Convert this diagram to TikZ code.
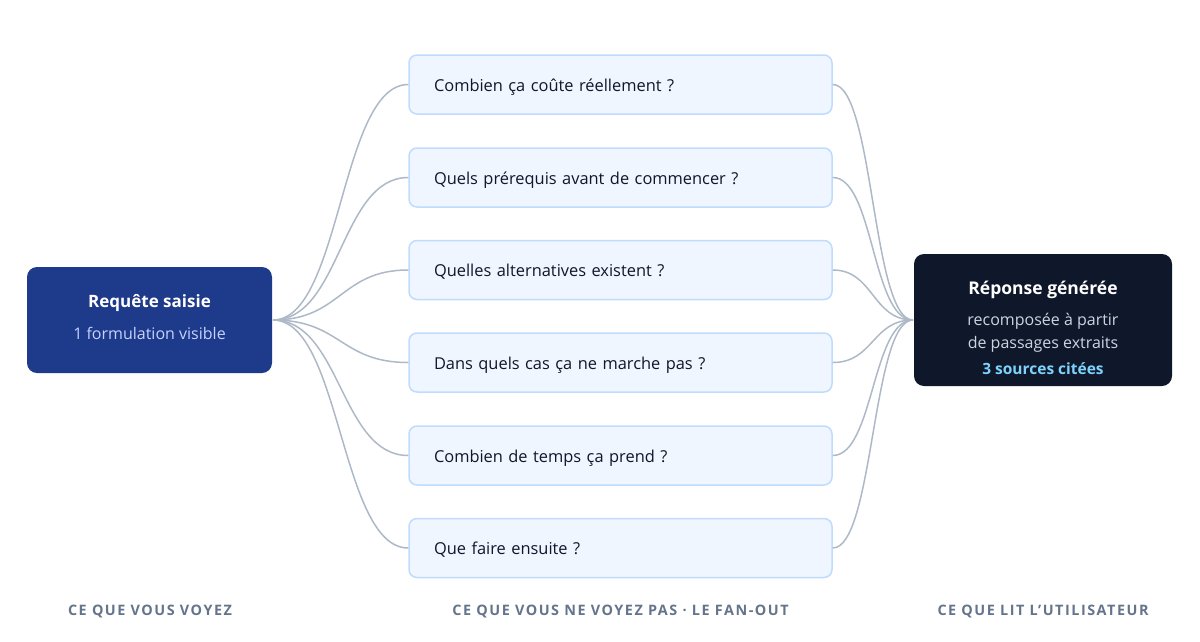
\documentclass[tikz,border=0pt]{standalone}
\usepackage{fontspec}
\setmainfont{Open Sans}
\newfontfamily\capsfont[LetterSpace=10.5]{Open Sans}
\usetikzlibrary{positioning,calc}
\definecolor{leftfill}{HTML}{1E3A8A}
\definecolor{rightfill}{HTML}{0F172A}
\definecolor{midfill}{HTML}{EFF6FF}
\definecolor{midborder}{HTML}{BFDBFE}
\definecolor{linkcol}{HTML}{AEB9C8}
\definecolor{subleft}{HTML}{C7D2FE}
\definecolor{subright}{HTML}{CBD5E1}
\definecolor{citecol}{HTML}{7DD3FC}
\definecolor{capcol}{HTML}{64748B}
\definecolor{midtext}{HTML}{0F172A}
\tikzset{
  midbox/.style={draw=midborder, line width=1.5pt, fill=midfill, rounded corners=8pt,
    minimum width=423pt, minimum height=59pt, text width=373pt, align=left,
    text height=13pt, text depth=0pt,
    inner sep=0pt, font=\fontsize{16.4}{19}\selectfont, text=midtext},
  leftbox/.style={fill=leftfill, rounded corners=10pt, minimum width=245pt, minimum height=106pt,
    align=center, inner sep=0pt, text=white},
  rightbox/.style={fill=rightfill, rounded corners=10pt, minimum width=258pt, minimum height=132pt,
    align=center, inner sep=0pt, text=white},
  link/.style={draw=linkcol, line width=1.5pt},
  caption/.style={font=\capsfont\bfseries\fontsize{14.4}{16}\selectfont, text=capcol, inner sep=0pt}
}
\begin{document}
\begin{tikzpicture}[x=1pt,y=-1pt]
\useasboundingbox (0,0) rectangle (1200,641);
\node[leftbox] (req) at (149.5,320) {};
\node[text=white, font=\bfseries\fontsize{17}{20}\selectfont] (reqt) at (149.5,303) {Requête saisie};
\node[text=subleft, font=\fontsize{16}{19}\selectfont] (reqs) at (149.5,333) {1 formulation visible};
\node[rightbox] (rep) at (1043,320) {};
\node[text=white, font=\bfseries\fontsize{17.5}{20}\selectfont] (rept) at (1043,290) {Réponse générée};
\node[text=subright, font=\fontsize{16}{19}\selectfont] (rep1) at (1043,321) {recomposée à partir};
\node[text=subright, font=\fontsize{16}{19}\selectfont] (rep2) at (1043,344) {de passages extraits};
\node[text=citecol, font=\bfseries\fontsize{15.5}{18}\selectfont] (rep3) at (1043,369) {3 sources citées};
\node[midbox] (q1) at (620.5,84.5) {Combien ça coûte réellement ?};
\node[midbox] (q2) at (620.5,177.5) {Quels prérequis avant de commencer ?};
\node[midbox] (q3) at (620.5,270) {Quelles alternatives existent ?};
\node[midbox] (q4) at (620.5,362.5) {Dans quels cas ça ne marche pas ?};
\node[midbox] (q5) at (620.5,455.5) {Combien de temps ça prend ?};
\node[midbox] (q6) at (620.5,548) {Que faire ensuite ?};
\coordinate (lp) at (273,320);
\coordinate (rp) at (913,320);
\foreach \q in {q1,q2,q3,q4,q5,q6}{
  \draw[link] (lp) .. controls ($(lp)+(68,0)$) and ($(\q.west)+(-68,0)$) .. (\q.west);
  \draw[link] (\q.east) .. controls ($(\q.east)+(41,0)$) and ($(rp)+(-41,0)$) .. (rp);
}
\node[caption] (c1) at (150,611) {CE QUE VOUS VOYEZ};
\node[caption] (c2) at (620.5,611) {CE QUE VOUS NE VOYEZ PAS · LE FAN-OUT};
\node[caption] (c3) at (1043,611) {CE QUE LIT L’UTILISATEUR};
\end{tikzpicture}
\end{document}
